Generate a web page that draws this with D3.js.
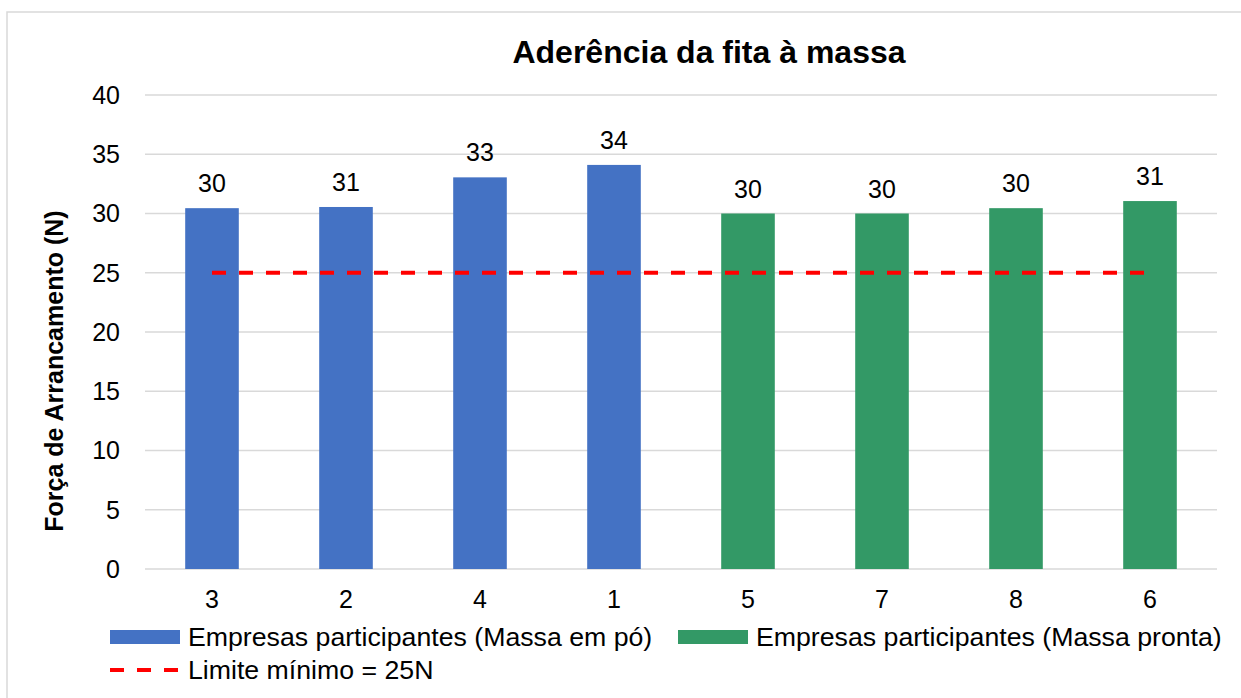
<!DOCTYPE html>
<meta charset="utf-8">
<style>
body { margin: 0; background: #fff; }
text { font-family: "Liberation Sans", Arial, sans-serif; fill: #000; }
.grid line { stroke: #d9d9d9; stroke-width: 1.3; }
</style>
<body>
<script src="https://d3js.org/d3.v7.min.js"></script>
<script>

// data
var companies = ["3", "2", "4", "1", "5", "7", "8", "6"];
var forcePo = [30.45, 30.55, 33.05, 34.1];      // Massa em pó (3,2,4,1)
var forcePronta = [30.0, 30.0, 30.45, 31.05];   // Massa pronta (5,7,8,6)
var limite = 25;
var yTicks = [0, 5, 10, 15, 20, 25, 30, 35, 40];
var seriesNames = ["Empresas participantes (Massa em pó)", "Empresas participantes (Massa pronta)", "Limite mínimo = 25N"];

var W = 1241, H = 698;
var plot = {left: 145, right: 1217, top: 95, bottom: 569};

var svg = d3.select("body").append("svg")
    .attr("width", W).attr("height", H);

// chart border
svg.append("rect")
    .attr("x", 7).attr("y", 12)
    .attr("width", W + 20).attr("height", H + 20)
    .attr("fill", "none").attr("stroke", "#d9d9d9").attr("stroke-width", 1.5);

var x = d3.scaleBand()
    .domain(companies)
    .range([plot.left, plot.right])
    .paddingInner(0.6).paddingOuter(0.3);
var y = d3.scaleLinear()
    .domain([0, 40])
    .range([plot.bottom, plot.top]);

// gridlines
svg.append("g").attr("class", "grid")
  .selectAll("line").data(yTicks).enter().append("line")
    .attr("x1", plot.left).attr("x2", plot.right)
    .attr("y1", function(d) { return y(d); })
    .attr("y2", function(d) { return y(d); });

// y tick labels
svg.append("g").selectAll("text").data(yTicks).enter().append("text")
    .attr("x", 120).attr("y", function(d) { return y(d); })
    .attr("dy", "0.35em")
    .attr("text-anchor", "end")
    .style("font-size", "25px")
    .text(function(d) { return d; });

// bars
var bars = companies.map(function(c, i) {
  return i < 4 ? {c: c, v: forcePo[i], s: 0} : {c: c, v: forcePronta[i - 4], s: 1};
});
var colors = ["#4472c4", "#339966"];

svg.append("g").selectAll("rect").data(bars).enter().append("rect")
    .attr("x", function(d) { return x(d.c); })
    .attr("width", x.bandwidth())
    .attr("y", function(d) { return y(d.v); })
    .attr("height", function(d) { return y(0) - y(d.v); })
    .attr("fill", function(d) { return colors[d.s]; });

// value labels
svg.append("g").selectAll("text").data(bars).enter().append("text")
    .attr("x", function(d) { return x(d.c) + x.bandwidth() / 2; })
    .attr("y", function(d) { return y(d.v) - 16; })
    .attr("text-anchor", "middle")
    .style("font-size", "25px")
    .text(function(d) { return d3.format(".0f")(d.v); });

// x tick labels
svg.append("g").selectAll("text").data(companies).enter().append("text")
    .attr("x", function(d) { return x(d) + x.bandwidth() / 2; })
    .attr("y", 608)
    .attr("text-anchor", "middle")
    .style("font-size", "25px")
    .text(function(d) { return d; });

// limit line
var line = d3.line()
    .x(function(d) { return x(d) + x.bandwidth() / 2; })
    .y(function() { return y(limite); });
svg.append("path")
    .datum(companies)
    .attr("d", line)
    .attr("fill", "none")
    .attr("stroke", "#ff0000")
    .attr("stroke-width", 4)
    .attr("stroke-dasharray", "14,13");

// title
svg.append("text")
    .attr("x", 709).attr("y", 63)
    .attr("text-anchor", "middle")
    .style("font-size", "32px").style("font-weight", "bold")
    .text("Aderência da fita à massa");

// y axis title
svg.append("text")
    .attr("transform", "translate(63," + 371 + ") rotate(-90)")
    .attr("text-anchor", "middle")
    .style("font-size", "25px").style("font-weight", "bold")
    .text("Força de Arrancamento (N)");

// legend
var lg = svg.append("g");
var legendItems = [
  {name: seriesNames[0], x: 110, y: 637, type: "rect", color: colors[0]},
  {name: seriesNames[1], x: 678, y: 637, type: "rect", color: colors[1]},
  {name: seriesNames[2], x: 110, y: 670, type: "line", color: "#ff0000"}
];
legendItems.forEach(function(d) {
  if (d.type === "rect") {
    lg.append("rect").attr("x", d.x).attr("y", d.y - 7)
      .attr("width", 70).attr("height", 14).attr("fill", d.color);
  } else {
    lg.append("line").attr("x1", d.x).attr("x2", d.x + 70)
      .attr("y1", d.y).attr("y2", d.y)
      .attr("stroke", d.color).attr("stroke-width", 4)
      .attr("stroke-dasharray", "14,13");
  }
  lg.append("text").attr("x", d.x + 78).attr("y", d.y)
    .attr("dy", "0.35em")
    .style("font-size", "26.7px")
    .text(d.name);
});

</script>
</body>
